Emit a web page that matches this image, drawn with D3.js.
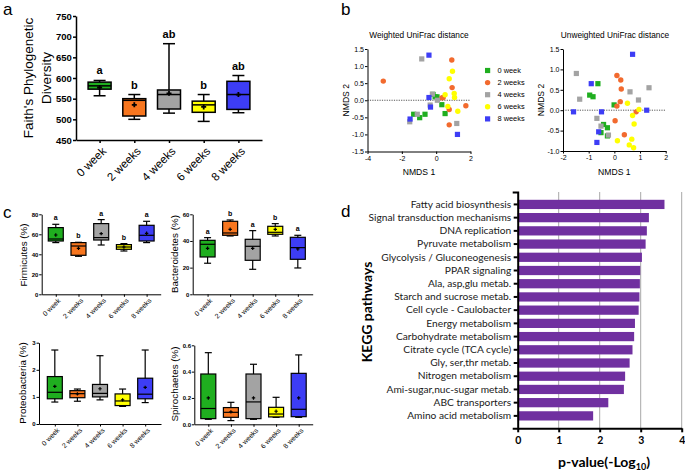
<!DOCTYPE html>
<html><head><meta charset="utf-8">
<script src="https://cdn.jsdelivr.net/npm/d3@7"></script>
<style>body{margin:0;background:#fff} svg{display:block}</style>
</head><body><svg id="c" width="685" height="473"></svg>
<script>
// ---------- DATA ----------
const categories = ["0 week","2 weeks","4 weeks","6 weeks","8 weeks"];
const groupColors = ["#1fae1f","#f7761f","#a3a3a3","#ffff00","#3d3df5"];
const scatterColors = ["#1fae1f","#f26a2e","#a3a3a3","#ffff00","#3d3df5"];
// stats: [whiskerMin, Q1, median, Q3, whiskerMax, mean]
const faithStats = [
  [557,573,581,590,594,577],
  [500,508,546,550,560,535],
  [515,525,560,571,683,563],
  [495,517,535,544,560,530],
  [516,524,560,592,606,560]
];
const faithLetters = ["a","b","ab","b","ab"];
const faithTicks = [450,500,550,600,650,700,750];

const firmicutesStats = [
  [51.7,53.3,55.3,66.7,70,59.3],
  [38,39,48.3,51.7,52,46],
  [49.3,54.3,56.7,70.7,74.7,60.7],
  [43.3,45,47.3,49.7,50.7,47.3],
  [51.7,53.3,59,69,73,61]
];
const firmicutesLetters = ["a","b","a","b","a"];
const firmicutesTicks = [0,20,40,60,80];

const bacteroidetesStats = [
  [23.3,28,37.5,40.5,42.5,34.5],
  [43.75,44.25,46,54.75,55.75,48.75],
  [18.75,25.5,36,41.25,47.75,34.5],
  [43.75,45,46.5,51,53,48.75],
  [19.75,26.25,35,42.75,44.25,34]
];
const bacteroidetesLetters = ["a","b","a","b","a"];
const bacteroidetesTicks = [0,20,40,60];

const proteobacteriaStats = [
  [0.81,0.93,1.17,1.75,2.73,1.39],
  [0.84,0.97,1.12,1.23,1.29,1.11],
  [0.89,1.0,1.13,1.46,2.52,1.3],
  [0.65,0.68,0.85,1.11,1.29,0.89],
  [0.79,0.93,1.1,1.69,2.73,1.35]
];
const proteobacteriaTicks = [0,1,2,3];

const spirochaetesStats = [
  [0.038,0.043,0.12,0.382,0.544,0.2],
  [0.028,0.053,0.091,0.127,0.167,0.094],
  [0.038,0.043,0.17,0.382,0.456,0.2],
  [0.053,0.056,0.078,0.129,0.205,0.099],
  [0.053,0.058,0.114,0.387,0.527,0.2]
];
const spirochaetesTicks = [0,0.2,0.4,0.6];

// NMDS points [NMDS1, NMDS2]
const weighted0 = [[-1.31,-0.41],[-0.96,-0.51],[-0.65,-0.41],[-0.18,0.17],[-0.06,0.1],[0.05,0.1],[0.33,-0.13],[0.52,-0.39]];
const weighted2 = [[-3.08,0.56],[0.91,1.18],[0.93,0.37],[0.41,0.08],[0.33,0.07],[0.76,-0.27],[0.76,-0.72],[1.73,-0.16]];
const weighted4 = [[-0.84,1.21],[-1.54,-0.63],[-1.1,-0.41],[-0.35,-0.14],[-0.22,0.18],[0.07,0.0],[1.2,-0.68]];
const weighted6 = [[0.95,0.85],[0.76,0.63],[1.05,0.2],[1.07,0.08],[0.52,0.16],[0.68,-0.18],[1.26,-0.32]];
const weighted8 = [[-0.42,1.32],[-1.52,-0.55],[-0.42,0.08],[-0.33,-0.2],[1.24,-1.0]];
const unweighted0 = [[-0.64,0.65],[-0.96,0.37],[-0.83,0.33],[-0.01,0.13],[-0.42,-0.35],[-0.27,-0.43],[-0.52,-0.55],[-0.27,-0.63]];
const unweighted2 = [[0.1,0.85],[0.25,0.74],[0.27,0.52],[0.23,0.21],[0.1,0.1],[0.03,-0.26],[0.39,-0.6],[0.85,-0.04]];
const unweighted4 = [[-1.48,0.9],[-1.35,0.27],[0.61,0.45],[1.35,0.55],[0.94,0.25],[-0.68,-0.2],[-0.52,-0.39],[-0.23,-0.61]];
const unweighted6 = [[0.51,0.17],[0.96,0.02],[0.71,-0.13],[0.77,-0.34],[0.12,-0.75],[0.68,-0.71],[0.58,-0.85],[0.75,-0.92]];
const unweighted8 = [[0.71,1.37],[-0.9,0.65],[-1.59,-0.04],[-0.5,-0.04],[1.26,0.0],[-0.61,-0.53],[-0.68,-0.79]];
const groupIsSquare = [true,false,true,false,true];
const nmdsXTicksW = [-4,-2,0,2];
const nmdsYTicksW = [-1.5,-1,-0.5,0,0.5,1,1.5];
const nmdsXTicksU = [-2,-1,0,1,2];
const nmdsYTicksU = [-1,-0.5,0,0.5,1,1.5];

const keggPathways = ["Fatty acid biosynthesis","Signal transduction mechanisms","DNA replication","Pyruvate metabolism","Glycolysis / Gluconeogenesis","PPAR signaling","Ala, asp,glu metab.","Starch and sucrose metab.","Cell cycle - Caulobacter","Energy metabolism","Carbohydrate metabolism","Citrate cycle (TCA cycle)","Gly, ser,thr metab.","Nitrogen metabolism","Ami-sugar,nuc-sugar metab.","ABC transporters","Amino acid metabolism"];
const keggValues = [3.58,3.2,3.15,3.12,3.03,2.99,2.98,2.97,2.95,2.86,2.84,2.8,2.73,2.62,2.59,2.21,1.84];
const keggTicks = [0,1,2,3,4];

// ---------- DRAW ----------
const svg = d3.select("#c");
const FONT = "'Liberation Sans', Arial, sans-serif";
const minusFix = f => v => f(v).replace("\u2212","-");

function panelLabel(t,x,y){
  svg.append("text").attr("x",x).attr("y",y).text(t)
    .attr("font-family",FONT).attr("font-size",17).attr("fill","#000");
}

function boxPanel(o){
  const g = svg.append("g");
  const x = d3.scalePoint().domain(categories).range([o.x0,o.x1]).padding(o.pad);
  const y = d3.scaleLinear().domain(o.domain).range([o.yBottom,o.yTop]);
  const ya = g.append("g").attr("transform",`translate(${o.x0},0)`)
    .call(d3.axisLeft(y).tickValues(o.ticks).tickSize(o.tick).tickSizeOuter(0).tickFormat(o.fmt||d3.format("d")));
  ya.attr("font-family",FONT).attr("font-size",o.tickFont).attr("font-weight",o.tickWeight||"normal");
  ya.selectAll("text").attr("x",-o.tick-o.tickGap).attr("fill","#000");
  const xa = g.append("g").attr("transform",`translate(0,${o.yBottom})`)
    .call(d3.axisBottom(x).tickSize(o.tick).tickSizeOuter(0));
  xa.attr("font-family",FONT).attr("font-size",o.catFont);
  xa.selectAll("text").attr("x",0).attr("y",0).attr("dy","0.35em").attr("fill","#000")
    .attr("transform",`translate(${o.catDx},${o.catDy}) rotate(-45)`).attr("text-anchor","end");
  g.selectAll(".domain, .tick line").attr("stroke","#000").attr("stroke-width",o.axisW);

  const items = g.selectAll("g.box").data(o.stats).join("g").attr("class","box")
    .attr("transform",(d,i)=>`translate(${x(categories[i])},0)`);
  items.append("line").attr("x1",0).attr("x2",0).attr("y1",d=>y(d[0])).attr("y2",d=>y(d[4]))
    .attr("stroke","#000").attr("stroke-width",o.lineW);
  items.append("line").attr("x1",-o.capW/2).attr("x2",o.capW/2).attr("y1",d=>y(d[0])).attr("y2",d=>y(d[0]))
    .attr("stroke","#000").attr("stroke-width",o.lineW);
  items.append("line").attr("x1",-o.capW/2).attr("x2",o.capW/2).attr("y1",d=>y(d[4])).attr("y2",d=>y(d[4]))
    .attr("stroke","#000").attr("stroke-width",o.lineW);
  items.append("rect").attr("x",-o.boxW/2).attr("width",o.boxW)
    .attr("y",d=>y(d[3])).attr("height",d=>y(d[1])-y(d[3]))
    .attr("fill",(d,i)=>groupColors[i]).attr("stroke","#000").attr("stroke-width",o.lineW);
  items.append("line").attr("x1",-o.boxW/2).attr("x2",o.boxW/2).attr("y1",d=>y(d[2])).attr("y2",d=>y(d[2]))
    .attr("stroke","#000").attr("stroke-width",o.lineW);
  const pm = o.plus;
  items.append("path").attr("d",d=>`M${-pm},${y(d[5])}H${pm}M0,${y(d[5])-pm}V${y(d[5])+pm}`)
    .attr("stroke","#000").attr("stroke-width",o.plusW);
  if(o.letters){
    items.append("text").attr("x",0).attr("y",d=>y(d[4])-o.letterGap).attr("text-anchor","middle").attr("fill","#000")
      .attr("font-family",FONT).attr("font-size",o.letterFont).attr("font-weight","bold").text((d,i)=>o.letters[i]);
  }
  o.title.forEach((t,k)=>{
    g.append("text").attr("transform",`translate(${o.titleX + k*o.titleLH},${o.titleY}) rotate(-90)`)
      .attr("text-anchor","middle").attr("font-family",FONT).attr("font-size",o.titleFont).attr("fill","#000").text(t);
  });
}

// Panel a
panelLabel("a",3,15);
boxPanel({x0:76,x1:262,pad:0.68,yTop:16,yBottom:140,domain:[450,750],ticks:faithTicks,tick:3,tickGap:1.2,
  tickFont:9.5,tickWeight:"bold",catFont:11.5,catDx:4,catDy:9,axisW:1.5,lineW:1.5,boxW:23,capW:12,
  stats:faithStats,letters:faithLetters,letterGap:6,letterFont:11,plus:2.5,plusW:1.8,
  title:["Faith's Phylogenetic","Diversity"],titleX:33,titleLH:17.5,titleY:78,titleFont:13.5});

// Panel c
panelLabel("c",3,218);
const cCommon = {tick:2.5,tickGap:0.8,tickFont:6,tickWeight:"bold",catFont:6.9,catDx:3,catDy:5,axisW:1,lineW:1.2,
  boxW:15,capW:7,letterGap:4,letterFont:7,plus:1.7,plusW:1.2,titleLH:0,titleFont:9.8};
boxPanel(Object.assign({},cCommon,{x0:41.7,x1:160.7,pad:0.62,yTop:214.3,yBottom:294.3,domain:[0,80],
  ticks:firmicutesTicks,stats:firmicutesStats,letters:firmicutesLetters,title:["Firmicutes (%)"],titleX:27,titleY:255}));
boxPanel(Object.assign({},cCommon,{x0:192.7,x1:312.7,pad:0.66,yTop:214.3,yBottom:294.3,domain:[0,60],
  ticks:bacteroidetesTicks,stats:bacteroidetesStats,letters:bacteroidetesLetters,title:["Bacteroidetes (%)"],titleX:178,titleY:254}));
boxPanel(Object.assign({},cCommon,{x0:39,x1:161,pad:0.7,yTop:342.7,yBottom:424,domain:[0,3],
  ticks:proteobacteriaTicks,stats:proteobacteriaStats,title:["Proteobacteria (%)"],titleX:26,titleY:383}));
boxPanel(Object.assign({},cCommon,{x0:194.3,x1:312.7,pad:0.62,yTop:345.3,yBottom:424.3,domain:[0,0.6],
  ticks:spirochaetesTicks,fmt:d3.format(".1f"),stats:spirochaetesStats,title:["Spirochaetes (%)"],titleX:178,titleY:384}));

// Panel b
panelLabel("b",341,15);
function scatterPanel(o){
  const g = svg.append("g");
  const x = d3.scaleLinear().domain(o.xd).range([o.x0,o.x1]);
  const y = d3.scaleLinear().domain(o.yd).range([o.y1,o.y0]);
  g.append("line").attr("x1",o.x0).attr("x2",o.x1).attr("y1",y(0)).attr("y2",y(0))
    .attr("stroke","#444").attr("stroke-width",0.9).attr("stroke-dasharray","1.2,1.2");
  const ya = g.append("g").attr("transform",`translate(${o.x0},0)`)
    .call(d3.axisLeft(y).tickValues(o.yt).tickSize(2.5).tickSizeOuter(0).tickFormat(minusFix(d3.format(".1f"))));
  const xa = g.append("g").attr("transform",`translate(0,${o.y1})`)
    .call(d3.axisBottom(x).tickValues(o.xt).tickSize(2.5).tickSizeOuter(0).tickFormat(minusFix(d3.format("d"))));
  [ya,xa].forEach(a=>{a.attr("font-family",FONT).attr("font-size",7);
    a.selectAll("text").attr("fill","#000");
    a.selectAll(".domain, .tick line").attr("stroke","#000").attr("stroke-width",1);});
  ya.selectAll("text").attr("x",-3.5);
  xa.selectAll("text").attr("y",4.5);
  o.groups.forEach((pts,gi)=>{
    const col = scatterColors[gi];
    if(groupIsSquare[gi]){
      g.selectAll(null).data(pts).join("rect").attr("x",d=>x(d[0])-2.6).attr("y",d=>y(d[1])-2.6)
        .attr("width",5.2).attr("height",5.2).attr("fill",col);
    } else {
      g.selectAll(null).data(pts).join("circle").attr("cx",d=>x(d[0])).attr("cy",d=>y(d[1])).attr("r",2.7).attr("fill",col);
    }
  });
  g.append("text").attr("x",o.tx).attr("y",37.5).attr("text-anchor","middle").attr("font-family",FONT).attr("font-size",8.3).attr("fill","#000").text(o.title);
  g.append("text").attr("x",(o.x0+o.x1)/2).attr("y",175).attr("text-anchor","middle").attr("font-family",FONT).attr("font-size",8.6).attr("fill","#000").text("NMDS 1");
  g.append("text").attr("transform",`translate(${o.x0-19},${(o.y0+o.y1)/2}) rotate(-90)`).attr("text-anchor","middle").attr("font-family",FONT).attr("font-size",8.6).attr("fill","#000").text("NMDS 2");
}
scatterPanel({x0:367.5,x1:470.5,y0:49,y1:151.5,xd:[-4,2],yd:[-1.5,1.5],xt:nmdsXTicksW,yt:nmdsYTicksW,tx:419,
  title:"Weighted UniFrac distance",groups:[weighted0,weighted2,weighted4,weighted6,weighted8]});
scatterPanel({x0:563,x1:665.7,y0:49,y1:151,xd:[-2,2],yd:[-1,1.5],xt:nmdsXTicksU,yt:nmdsYTicksU,tx:615,
  title:"Unweighted UniFrac distance",groups:[unweighted0,unweighted2,unweighted4,unweighted6,unweighted8]});
// legend
const leg = svg.append("g");
categories.forEach((c,i)=>{
  const yy = 70.5 + i*12.1;
  if(groupIsSquare[i]) leg.append("rect").attr("x",485).attr("y",yy-2.6).attr("width",5.2).attr("height",5.2).attr("fill",scatterColors[i]);
  else leg.append("circle").attr("cx",487.6).attr("cy",yy).attr("r",2.7).attr("fill",scatterColors[i]);
  leg.append("text").attr("x",497.5).attr("y",yy).attr("dy","0.35em").attr("font-family",FONT).attr("font-size",7.4).attr("fill","#000").text(c);
});

// Panel d
panelLabel("d",341,217);
(function(){
  const g = svg.append("g");
  const DF = "Lato, 'Open Sans', sans-serif";
  const x = d3.scaleLinear().domain([0,4]).range([517.7,681.7]);
  const y = d3.scaleBand().domain(keggPathways).range([192,428.3]).paddingInner(0.3).paddingOuter(0.59);
  g.selectAll("line.grid").data(keggTicks.slice(1)).join("line").attr("class","grid")
    .attr("x1",d=>x(d)).attr("x2",d=>x(d)).attr("y1",192).attr("y2",428.3).attr("stroke","#a8a8a8").attr("stroke-width",1);
  g.selectAll("rect.bar").data(keggValues).join("rect").attr("class","bar")
    .attr("x",x(0)).attr("y",(d,i)=>y(keggPathways[i])).attr("height",y.bandwidth())
    .attr("width",d=>x(d)-x(0)).attr("fill","#7030a0");
  const ya = g.append("g").attr("transform",`translate(${x(0)},0)`)
    .call(d3.axisLeft(y).tickSize(4).tickSizeOuter(5));
  ya.attr("font-family",DF).attr("font-size",10.2);
  ya.selectAll("text").attr("x",-6.5).attr("fill","#1a1a1a");
  const xa = g.append("g").attr("transform",`translate(0,428.3)`)
    .call(d3.axisBottom(x).tickValues(keggTicks).tickSize(4).tickSizeOuter(0).tickFormat(d3.format("d")));
  xa.attr("font-family",DF).attr("font-size",10.5).attr("font-weight","bold");
  xa.selectAll("text").attr("y",8).attr("fill","#000");
  [ya,xa].forEach(a=>a.selectAll(".domain, .tick line").attr("stroke","#000").attr("stroke-width",2));
  const t = g.append("text").attr("x",604).attr("y",467).attr("text-anchor","middle")
    .attr("font-family",DF).attr("font-size",14).attr("font-weight","bold").attr("fill","#000");
  t.append("tspan").text("p-value(-Log");
  t.append("tspan").attr("font-size",9).attr("dy",3).text("10");
  t.append("tspan").attr("dy",-3).text(")");
  g.append("text").attr("transform",`translate(372,312) rotate(-90)`).attr("text-anchor","middle")
    .attr("font-family",DF).attr("font-size",14).attr("font-weight","bold").attr("fill","#000").text("KEGG pathways");
})();
</script></body></html>
